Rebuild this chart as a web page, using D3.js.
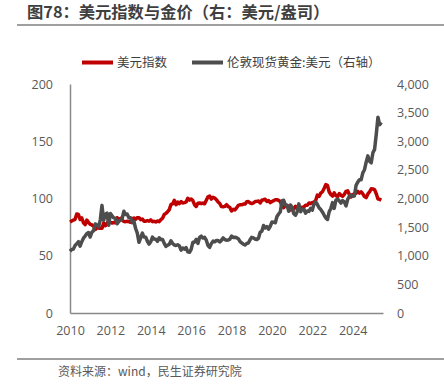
<!DOCTYPE html>
<html>
<head>
<meta charset="utf-8">
<script src="https://cdn.jsdelivr.net/npm/d3@7"></script>
<style>
  body { margin: 0; background: #fff; }
  svg { display: block; }
  text { font-family: "Open Sans", "Noto Sans CJK SC", sans-serif; }
  .cjk { font-family: "Noto Sans CJK SC", sans-serif; }
</style>
</head>
<body>
<div id="chart"></div>
<script>
// monthly values, Jan 2010 .. Jun 2025
var startYear = 2010;
var dxy = [
  79.5, 80.4, 81.2, 81.8, 86.5, 86.0, 81.6, 83.0, 78.8, 77.2, 81.2, 79.0,
  77.5, 76.9, 75.9, 72.9, 74.6, 74.3, 74.0, 74.0, 78.6, 76.2, 78.5, 80.2,
  79.1, 78.6, 79.0, 78.8, 83.2, 81.6, 82.6, 81.2, 79.9, 79.8, 80.1, 79.8,
  79.2, 82.2, 83.0, 81.8, 83.3, 83.2, 81.5, 82.1, 80.2, 80.2, 80.7, 80.2,
  81.3, 79.8, 80.1, 79.5, 80.4, 79.8, 81.5, 82.8, 86.0, 87.0, 88.4, 90.3,
  94.8, 95.3, 98.4, 94.6, 96.9, 95.5, 97.3, 96.1, 96.4, 97.0, 100.2, 98.6,
  99.6, 98.2, 94.6, 93.1, 95.9, 96.1, 95.5, 96.0, 95.4, 98.4, 101.5, 102.2,
  99.5, 101.1, 100.4, 99.0, 97.0, 95.6, 92.9, 92.7, 93.1, 94.6, 93.0, 92.1,
  89.1, 90.6, 90.0, 91.8, 94.0, 94.5, 94.5, 95.1, 95.1, 97.1, 97.3, 96.2,
  95.6, 96.2, 97.3, 97.5, 97.8, 96.1, 98.5, 98.9, 99.4, 97.4, 98.3, 96.4,
  97.4, 98.1, 99.0, 99.0, 98.3, 97.4, 93.3, 92.1, 93.9, 94.0, 91.9, 89.9,
  90.6, 90.9, 93.2, 91.3, 90.0, 92.4, 92.2, 92.6, 94.2, 94.1, 96.0, 95.7,
  96.5, 96.7, 98.3, 103.0, 101.8, 104.7, 105.9, 108.7, 112.1, 111.5, 105.9, 103.5,
  102.1, 104.9, 102.5, 101.7, 104.3, 102.9, 101.9, 103.6, 106.2, 106.7, 103.5, 101.3,
  103.3, 104.2, 104.5, 106.2, 104.7, 105.9, 104.1, 101.7, 100.8, 104.0, 105.7, 108.5,
  108.4, 107.6, 104.2, 99.5, 99.3, 98.6
];
var gold = [
  1078, 1109, 1116, 1180, 1208, 1245, 1169, 1246, 1307, 1346, 1386, 1405,
  1327, 1411, 1439, 1556, 1536, 1505, 1628, 1880, 1620, 1722, 1746, 1531,
  1738, 1697, 1662, 1651, 1558, 1599, 1622, 1648, 1776, 1720, 1727, 1664,
  1664, 1578, 1598, 1476, 1394, 1234, 1314, 1396, 1326, 1324, 1253, 1204,
  1244, 1326, 1292, 1288, 1251, 1315, 1285, 1286, 1216, 1164, 1182, 1199,
  1260, 1214, 1187, 1180, 1191, 1172, 1098, 1135, 1115, 1142, 1068, 1060,
  1111, 1235, 1237, 1285, 1215, 1320, 1342, 1309, 1322, 1272, 1178, 1146,
  1212, 1255, 1245, 1266, 1266, 1242, 1269, 1312, 1283, 1271, 1275, 1291,
  1345, 1318, 1324, 1315, 1298, 1250, 1224, 1201, 1187, 1215, 1222, 1279,
  1321, 1313, 1292, 1284, 1306, 1409, 1427, 1528, 1485, 1511, 1464, 1515,
  1589, 1586, 1577, 1686, 1730, 1768, 1962, 1968, 1886, 1879, 1776, 1888,
  1848, 1734, 1708, 1769, 1906, 1770, 1814, 1814, 1743, 1783, 1774, 1829,
  1797, 1909, 1937, 1897, 1837, 1807, 1766, 1711, 1661, 1633, 1768, 1824,
  1928, 1827, 1969, 1990, 1962, 1919, 1965, 1940, 1870, 1983, 2036, 2063,
  2039, 2044, 2230, 2286, 2327, 2326, 2447, 2503, 2634, 2744, 2651, 2624,
  2798, 2858, 3122, 3420, 3290, 3330
];
var leftTicks = [0, 50, 100, 150, 200];
var rightTicks = [0, 500, 1000, 1500, 2000, 2500, 3000, 3500, 4000];
var yearTicks = [2010, 2012, 2014, 2016, 2018, 2020, 2022, 2024];

var W = 444, H = 387;
// plot box (window.top is read-only, so no bare "top" here)
var plot = {x0: 70, x1: 383, y0: 84, y1: 313};

var svg = d3.select('#chart').append('svg')
  .attr('width', W).attr('height', H);

// title
svg.append('text').attr('class', 'cjk')
  .attr('x', 27).attr('y', 17.5)
  .attr('font-size', '16.3px').attr('font-weight', 'bold')
  .attr('fill', '#3f3f3f')
  .text('图78：美元指数与金价（右：美元/盎司）');
svg.append('line').attr('x1', 17).attr('x2', 444).attr('y1', 25).attr('y2', 25)
  .attr('stroke', '#7f7f7f').attr('stroke-width', 1.5);

var x = d3.scaleLinear().domain([2010, 2025.5]).range([plot.x0, plot.x1]);
var yL = d3.scaleLinear().domain([0, 200]).range([plot.y1, plot.y0]);
var yR = d3.scaleLinear().domain([0, 4000]).range([plot.y1, plot.y0]);

function t(i) { return startYear + i / 12; }

// axes
var axL = svg.append('g').attr('transform', 'translate(' + plot.x0 + ',0)')
  .call(d3.axisLeft(yL).tickValues(leftTicks).tickSize(0).tickPadding(17));
var axR = svg.append('g').attr('transform', 'translate(' + plot.x1 + ',0)')
  .call(d3.axisRight(yR).tickValues(rightTicks).tickSize(0).tickPadding(14)
    .tickFormat(d3.format(',')));
var axX = svg.append('g').attr('transform', 'translate(0,' + plot.y1 + ')')
  .call(d3.axisBottom(x).tickValues(yearTicks).tickSize(0).tickPadding(13)
    .tickFormat(d3.format('d')));
axR.select('.domain').remove();
[axL, axR, axX].forEach(function(a) {
  a.selectAll('text').attr('fill', '#595959').attr('font-size', '12.5px')
    .attr('font-family', '"Open Sans", sans-serif');
});
axL.select('.domain').attr('stroke', '#898989').attr('stroke-width', 1.5);
axX.select('.domain').attr('stroke', '#898989').attr('stroke-width', 1.5);

// lines
var lineL = d3.line().x(function(d, i) { return x(t(i)); }).y(function(d) { return yL(d); });
var lineR = d3.line().x(function(d, i) { return x(t(i)); }).y(function(d) { return yR(d); });

svg.append('path').datum(dxy).attr('d', lineL)
  .attr('fill', 'none').attr('stroke', '#c00000').attr('stroke-width', 3.5)
  .attr('stroke-linejoin', 'round');
svg.append('path').datum(gold).attr('d', lineR)
  .attr('fill', 'none').attr('stroke', '#4d4d4d').attr('stroke-width', 3.5)
  .attr('stroke-linejoin', 'round');

// legend
var legend = [
  {name: '美元指数', color: '#c00000', x: 82},
  {name: '伦敦现货黄金:美元（右轴）', color: '#4d4d4d', x: 192}
];
var lg = svg.append('g').selectAll('g').data(legend).enter().append('g');
lg.append('line').attr('x1', function(d) { return d.x; })
  .attr('x2', function(d) { return d.x + 31; })
  .attr('y1', 62.5).attr('y2', 62.5)
  .attr('stroke', function(d) { return d.color; }).attr('stroke-width', 4);
lg.append('text').attr('class', 'cjk')
  .attr('x', function(d) { return d.x + 35; }).attr('y', 67)
  .attr('font-size', '12.5px').attr('fill', '#404040')
  .text(function(d) { return d.name; });

// source
svg.append('line').attr('x1', 17).attr('x2', 444).attr('y1', 359).attr('y2', 359)
  .attr('stroke', '#7f7f7f').attr('stroke-width', 1.5);
svg.append('text').attr('class', 'cjk')
  .attr('x', 58).attr('y', 376)
  .attr('font-size', '12px').attr('fill', '#595959')
  .text('资料来源：wind，民生证券研究院');
</script>
</body>
</html>
